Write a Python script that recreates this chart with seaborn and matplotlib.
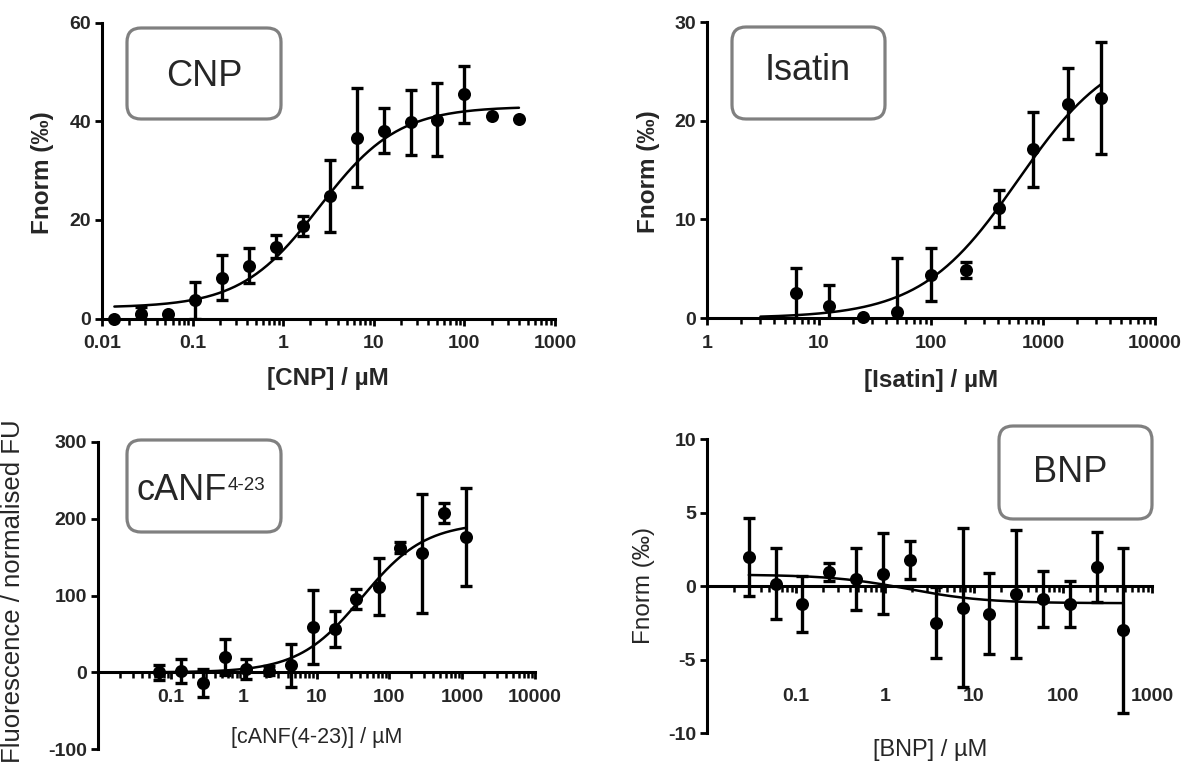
import numpy as np
import matplotlib
matplotlib.use("Agg")
import matplotlib.pyplot as plt
from matplotlib.patches import FancyBboxPatch
from matplotlib.ticker import LogLocator, NullFormatter
import seaborn as sns
import pandas as pd

# ---------------- data ----------------
cnp_x = [0.0137, 0.027, 0.054, 0.105, 0.21, 0.42, 0.83, 1.65, 3.3, 6.5, 13, 26, 50, 100, 200, 400]
cnp_y = [0.0, 1.0, 1.0, 3.7, 8.3, 10.7, 14.6, 18.8, 24.9, 36.7, 38.1, 39.8, 40.3, 45.5, 41.1, 40.5]
cnp_err = [0, 1.3, 0, 3.8, 4.6, 3.5, 2.4, 2.0, 7.3, 10.0, 4.6, 6.6, 7.4, 5.8, 0, 0]
cnp_fit = dict(lo=2.2, hi=43.0, ec50=2.5, n=1.0, start=0.0137, end=400)

isa_x = [6.2, 12.3, 24.8, 49.5, 100, 205, 406, 813, 1660, 3300]
isa_y = [2.5, 1.25, 0.1, 0.6, 4.4, 4.85, 11.1, 17.1, 21.7, 22.3]
isa_err = [2.6, 2.1, 0, 5.5, 2.65, 0.8, 1.9, 3.8, 3.6, 5.7]
isa_fit = dict(lo=0.0, hi=28.0, ec50=600, n=1.0, start=3.0, end=3300)

canf_x = [0.0695, 0.139, 0.277, 0.56, 1.09, 2.2, 4.4, 8.85, 17.7, 35.3, 71.2, 142, 280, 559, 1129]
canf_y = [0, 2, -14, 20, 5, 2, 9.5, 59.4, 56.4, 95.4, 111.4, 162, 154.7, 206.8, 176.4]
canf_err = [10, 16, 18, 24, 13, 6, 28, 48, 23, 13.5, 37, 7, 77, 13, 64]
canf_fit = dict(lo=0.0, hi=195.0, ec50=42, n=1.0, start=0.0695, end=1129)

bnp_x = [0.0295, 0.059, 0.118, 0.237, 0.473, 0.946, 1.89, 3.75, 7.5, 14.9, 29.7, 59.4, 119, 238, 475]
bnp_y = [2.0, 0.18, -1.18, 0.97, 0.52, 0.86, 1.8, -2.47, -1.45, -1.86, -0.54, -0.84, -1.22, 1.31, -2.99]
bnp_err = [2.65, 2.4, 1.9, 0.6, 2.1, 2.75, 1.3, 2.4, 5.4, 2.75, 4.35, 1.9, 1.55, 2.35, 5.6]
bnp_fit = dict(lo=0.8, hi=-1.15, ec50=1.8, n=1.0, start=0.0295, end=475)

titles = ["CNP", "Isatin", "cANF", "BNP"]
canf_sup = "4-23"
xlabels = ["[CNP] / \u00b5M", "[Isatin] / \u00b5M", "[cANF(4-23)] / \u00b5M", "[BNP] / \u00b5M"]
ylabels = ["Fnorm (\u2030)", "Fnorm (\u2030)", "Fluorescence / normalised FU", "Fnorm (\u2030)"]

cnp_xticks = [0.01, 0.1, 1, 10, 100, 1000]
cnp_xticklabels = ["0.01", "0.1", "1", "10", "100", "1000"]
isa_xticks = [1, 10, 100, 1000, 10000]
isa_xticklabels = ["1", "10", "100", "1000", "10000"]
canf_xticks = [0.1, 1, 10, 100, 1000, 10000]
canf_xticklabels = ["0.1", "1", "10", "100", "1000", "10000"]
bnp_xticks = [0.1, 1, 10, 100, 1000]
bnp_xticklabels = ["0.1", "1", "10", "100", "1000"]

cnp_yticks = [0, 20, 40, 60]
isa_yticks = [0, 10, 20, 30]
canf_yticks = [-100, 0, 100, 200, 300]
bnp_yticks = [-10, -5, 0, 5, 10]

# ---------------- style ----------------
sns.set_style("ticks")
plt.rcParams['font.family'] = ['Liberation Sans', 'DejaVu Sans']
plt.rcParams['axes.unicode_minus'] = False

W, H = 1183, 763
fig = plt.figure(figsize=(W / 100, H / 100), dpi=100)


def px_axes(l, t, r, b):
    return fig.add_axes([l / W, 1 - b / H, (r - l) / W, (b - t) / H])


def hill_curve(p):
    xs = np.logspace(np.log10(p['start']), np.log10(p['end']), 300)
    ys = p['lo'] + (p['hi'] - p['lo']) * xs ** p['n'] / (xs ** p['n'] + p['ec50'] ** p['n'])
    return xs, ys


def draw_panel(ax, x, y, err, fit, xlim, ylim, xticks, xticklabels, yticks,
               xlabel, ylabel, label_bold, xlabel_pos, ylabel_pos, xlabel_size, ylabel_size,
               spine_zero=False, xpad=7):
    x = np.asarray(x, float); y = np.asarray(y, float); err = np.asarray(err, float)
    xs, ys = hill_curve(fit)
    sns.lineplot(x=xs, y=ys, ax=ax, color='black', lw=1.8, estimator=None, sort=False, zorder=3)
    m = err > 0
    ax.errorbar(x[m], y[m], yerr=err[m], fmt='none', ecolor='black', elinewidth=2.4,
                capsize=4.3, capthick=2.4, zorder=2)
    df = pd.DataFrame({'x': x, 'y': y})
    sns.scatterplot(data=df, x='x', y='y', ax=ax, color='black', s=88, edgecolor='black',
                    linewidth=0, zorder=4, clip_on=False, legend=False)
    ax.set_xscale('log')
    ax.set_xlim(*xlim)
    ax.set_ylim(*ylim)
    ax.set_xticks(xticks)
    ax.set_xticklabels(xticklabels)
    ax.xaxis.set_minor_locator(LogLocator(base=10, subs=np.arange(2, 10), numticks=50))
    ax.xaxis.set_minor_formatter(NullFormatter())
    ax.set_yticks(yticks)
    ax.set_yticklabels([str(v) for v in yticks])
    for s in ['top', 'right']:
        ax.spines[s].set_visible(False)
    for s in ['left', 'bottom']:
        ax.spines[s].set_linewidth(2.2)
        ax.spines[s].set_color('black')
    if spine_zero:
        ax.spines['bottom'].set_position(('data', 0))
    ax.tick_params(axis='both', which='major', length=5, width=2, color='black',
                   labelsize=14, direction='out')
    ax.tick_params(axis='x', which='major', pad=xpad)
    ax.tick_params(axis='y', which='major', pad=3)
    ax.tick_params(axis='x', which='minor', length=4, width=1.8, color='black', direction='out')
    for lab in ax.get_xticklabels() + ax.get_yticklabels():
        lab.set_fontweight('bold')
    fw = 'bold' if label_bold else 'normal'
    ax.set_xlabel(xlabel, fontsize=xlabel_size, fontweight=fw, va='center')
    ax.set_ylabel(ylabel, fontsize=ylabel_size, fontweight=fw, va='center')
    ax.patch.set_alpha(0)
    pos = ax.get_position()
    l, b, w, h = pos.x0 * W, (1 - pos.y0) * H, pos.width * W, pos.height * H
    ax.xaxis.set_label_coords((xlabel_pos[0] - l) / w, (b - xlabel_pos[1]) / h)
    ax.yaxis.set_label_coords((ylabel_pos[0] - l) / w, (b - ylabel_pos[1]) / h)


ax1 = px_axes(102, 22.7, 555, 318.5)
draw_panel(ax1, cnp_x, cnp_y, cnp_err, cnp_fit, (0.01, 1000), (0, 60), cnp_xticks, cnp_xticklabels,
           cnp_yticks, xlabels[0], ylabels[0], True, (328, 379), (43, 173), 17.5, 17.5)

ax2 = px_axes(707, 22, 1155, 318)
draw_panel(ax2, isa_x, isa_y, isa_err, isa_fit, (1, 10000), (0, 30), isa_xticks, isa_xticklabels,
           isa_yticks, xlabels[1], ylabels[1], True, (931, 380), (649, 172), 17.5, 17.5)

ax3 = px_axes(98, 441.7, 535, 749.3)
draw_panel(ax3, canf_x, canf_y, canf_err, canf_fit, (0.01, 10000), (-100, 300), canf_xticks,
           canf_xticklabels, canf_yticks, xlabels[2], ylabels[2], False, (317, 738), (13, 591),
           15.5, 18.5, spine_zero=True)

ax4 = px_axes(707, 439.3, 1152, 733.3)
draw_panel(ax4, bnp_x, bnp_y, bnp_err, bnp_fit, (0.01, 1000), (-10, 10), bnp_xticks, bnp_xticklabels,
           bnp_yticks, xlabels[3], ylabels[3], False, (930, 750), (644, 585), 17, 17.5,
           spine_zero=True, xpad=68)

# ---------------- rounded label boxes ----------------
inch = fig.dpi_scale_trans


def label_box(x0, y0, x1, y1):
    p = FancyBboxPatch((x0 / 100, (H - y1) / 100), (x1 - x0) / 100, (y1 - y0) / 100,
                       boxstyle="round,pad=0,rounding_size=0.14", transform=inch,
                       fc='white', ec='#808080', lw=2.3, zorder=5)
    fig.add_artist(p)


label_box(127, 28, 281, 119)
fig.text(204 / 100, (H - 76) / 100, titles[0], transform=inch, fontsize=26, ha='center', va='center', zorder=6)
label_box(732, 27, 885, 119)
fig.text(808 / 100, (H - 71) / 100, titles[1], transform=inch, fontsize=26, ha='center', va='center', zorder=6)
label_box(127, 440, 281, 532)
fig.text(136 / 100, (H - 490) / 100, titles[2], transform=inch, fontsize=26, ha='left', va='center', zorder=6)
fig.text(228 / 100, (H - 476.5) / 100, canf_sup, transform=inch, fontsize=13.5, ha='left', va='top', zorder=6)
label_box(999, 426, 1152, 519)
fig.text(1070 / 100, (H - 472) / 100, titles[3], transform=inch, fontsize=26, ha='center', va='center', zorder=6)

fig.savefig("out.png", dpi=100)
